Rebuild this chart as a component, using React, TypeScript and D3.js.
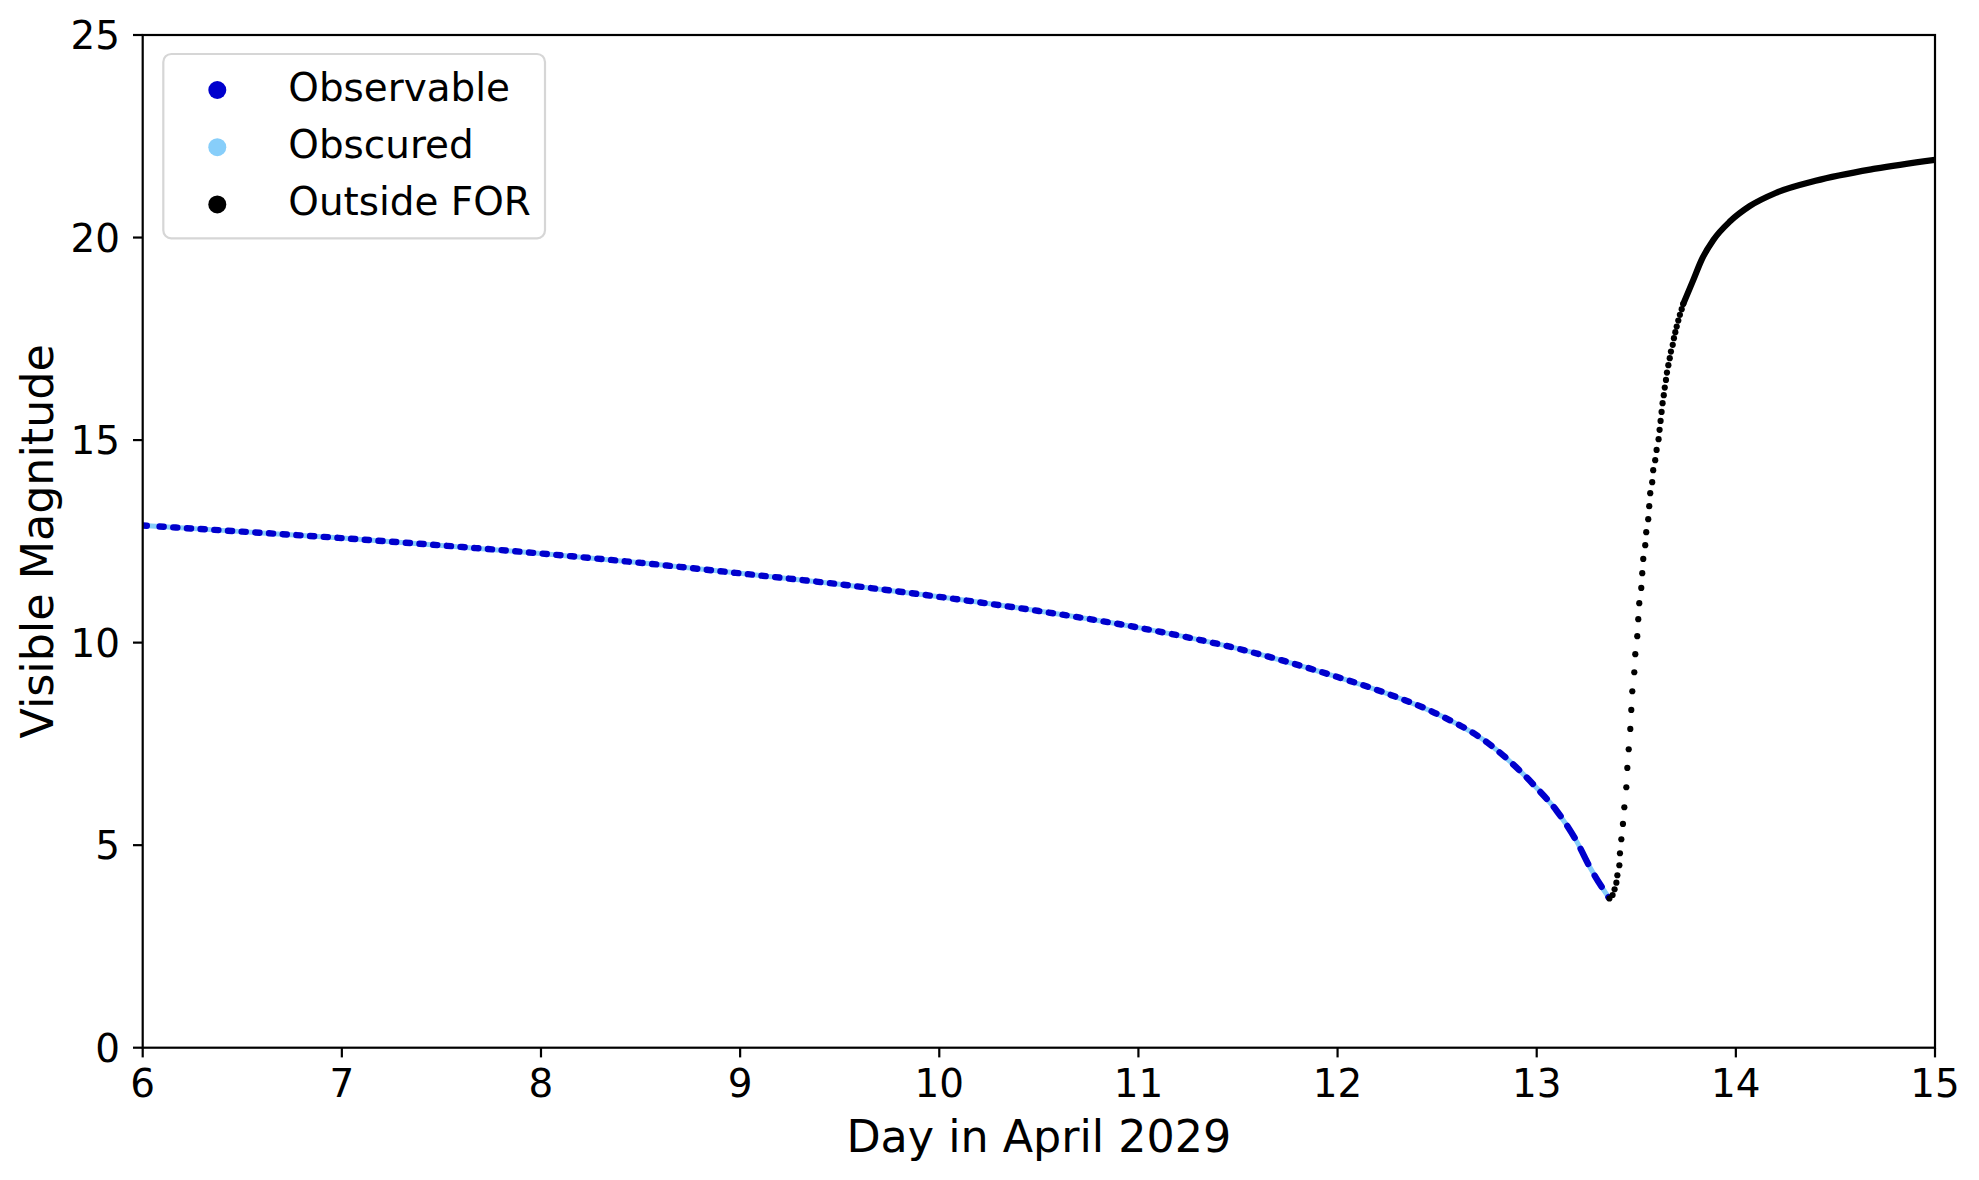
import React, { useEffect, useRef } from "react";
import * as d3 from "d3";

// ---------- data ----------
const xTicks = [6, 7, 8, 9, 10, 11, 12, 13, 14, 15];
const yTicks = [0, 5, 10, 15, 20, 25];
const xLabel = "Day in April 2029";
const yLabel = "Visible Magnitude";
const legendLabels = ["Observable", "Obscured", "Outside FOR"];
const legendColors = ["#0000cd", "#87cefa", "#000000"];

// Observable / Obscured track (day, visible magnitude)
const trackDays = [6.0, 6.5, 7.0, 7.5, 8.0, 8.5, 9.0, 9.5, 10.0, 10.5, 11.0, 11.5, 12.0, 12.25, 12.5, 12.75, 13.0, 13.1, 13.2, 13.27, 13.365];
const trackMags = [12.89, 12.74, 12.58, 12.4, 12.2, 11.97, 11.71, 11.44, 11.13, 10.78, 10.37, 9.85, 9.15, 8.74, 8.24, 7.54, 6.41, 5.85, 5.1, 4.43, 3.68];

// Outside FOR: individually visible points
const outDays = [13.365, 13.381, 13.391, 13.4, 13.405, 13.415, 13.418, 13.425, 13.433, 13.44, 13.45, 13.455, 13.462, 13.47, 13.475, 13.48, 13.49, 13.495, 13.505, 13.51, 13.515, 13.525, 13.53, 13.535, 13.545, 13.55, 13.56, 13.565, 13.57, 13.58, 13.585, 13.595, 13.602, 13.612, 13.617, 13.622, 13.627, 13.632, 13.638, 13.643, 13.649, 13.654, 13.661, 13.668, 13.674, 13.683, 13.689, 13.696, 13.703, 13.711, 13.719, 13.728, 13.736];
const outMags = [3.684, 3.77, 3.911, 4.074, 4.257, 4.504, 4.8, 5.146, 5.523, 5.936, 6.43, 6.906, 7.368, 7.869, 8.338, 8.8, 9.269, 9.714, 10.158, 10.578, 10.973, 11.351, 11.714, 12.067, 12.405, 12.726, 13.047, 13.368, 13.689, 13.96, 14.257, 14.504, 14.758, 15.022, 15.252, 15.474, 15.696, 15.911, 16.109, 16.296, 16.486, 16.667, 16.849, 17.022, 17.185, 17.351, 17.516, 17.664, 17.802, 17.951, 18.091, 18.232, 18.363];

// Outside FOR: densely packed continuation (points merge into a band)
const denseDays = [13.736, 13.786, 13.828, 13.887, 13.971, 14.071, 14.2, 14.4, 14.7, 15.0];
const denseMags = [18.363, 18.95, 19.45, 19.94, 20.4, 20.78, 21.1, 21.4, 21.7, 21.92];

export default function App() {
  const ref = useRef<SVGSVGElement>(null);

  useEffect(() => {
    document.body.style.margin = "0";
    const svg = d3.select(ref.current as SVGSVGElement);
    svg.selectAll("*").remove();

    const font = "DejaVu Sans, Verdana, sans-serif";
    const M = { l: 142.7, r: 1935, t: 35, b: 1047.7 };
    const x = d3.scaleLinear().domain([6, 15]).range([M.l, M.r]);
    const y = d3.scaleLinear().domain([0, 25]).range([M.b, M.t]);

    svg.append("rect").attr("width", 1979).attr("height", 1180).attr("fill", "white");

    svg.append("defs").append("clipPath").attr("id", "plotclip")
      .append("rect").attr("x", M.l).attr("y", M.t).attr("width", M.r - M.l).attr("height", M.b - M.t);

    const g = svg.append("g").attr("clip-path", "url(#plotclip)");

    // track
    const trackPts = trackDays.map((d, i) => [d, trackMags[i]] as [number, number]);
    const lineGen = d3.line<[number, number]>().x(d => x(d[0])).y(d => y(d[1])).curve(d3.curveMonotoneX);
    const dStr = lineGen(trackPts) as string;

    const under = g.append("path").attr("d", dStr).attr("fill", "none")
      .attr("stroke", legendColors[1]).attr("stroke-width", 5);

    const node = under.node() as SVGPathElement;
    const L = node.getTotalLength();
    const N = 4000;
    const sx: number[] = [];
    for (let i = 0; i <= N; i++) sx.push(node.getPointAtLength((L * i) / N).x);
    const lenAt = (px: number) => {
      let lo = 0, hi = N;
      while (hi - lo > 1) {
        const mid = (lo + hi) >> 1;
        if (sx[mid] < px) lo = mid; else hi = mid;
      }
      const f = (px - sx[lo]) / (sx[hi] - sx[lo] || 1);
      return (L * (lo + Math.max(0, Math.min(1, f)))) / N;
    };
    // dash pattern: one blob per visibility cycle (style only)
    const P = 0.0687;       // cycle length in days
    const frac = 0.77;      // visible share of each cycle
    const SW = 6.4;         // stroke width (round caps)
    const tStart = trackDays[0];
    const tEnd = trackDays[trackDays.length - 1];
    const dashes: [number, number][] = [];
    let k = 0;
    while (tStart + k * P < tEnd) {
      const t = tStart + k * P;
      const a = lenAt(x(t));
      const e = lenAt(x(Math.min(t + P, tEnd)));
      const per = e - a;
      const core = Math.max(0.01, frac * per - SW);
      const s = k === 0 ? 0 : a + SW / 2;
      dashes.push([s, Math.min(s + core, L)]);
      k++;
    }
    const segs: number[] = [];
    let prevEnd = 0;
    dashes.forEach(([s, e], i) => {
      if (i === 0) segs.push(e - s); else segs.push(Math.max(0, s - prevEnd), e - s);
      prevEnd = e;
    });
    segs.push(L);

    g.append("path").attr("d", dStr).attr("fill", "none")
      .attr("stroke", legendColors[0]).attr("stroke-width", SW)
      .attr("stroke-linecap", "round")
      .attr("stroke-dasharray", segs.map(v => v.toFixed(2)).join(" "));

    // outside FOR dense band
    const densePts = denseDays.map((d, i) => [d, denseMags[i]] as [number, number]);
    g.append("path").attr("d", lineGen(densePts) as string).attr("fill", "none")
      .attr("stroke", legendColors[2]).attr("stroke-width", 6.2).attr("stroke-linecap", "round");

    // outside FOR points
    g.selectAll("circle.out").data(outDays).enter().append("circle")
      .attr("class", "out")
      .attr("cx", d => x(d)).attr("cy", (_d, i) => y(outMags[i]))
      .attr("r", 3.1).attr("fill", legendColors[2]);

    // ticks
    const axisG = svg.append("g");
    xTicks.forEach(t => {
      axisG.append("line").attr("x1", x(t)).attr("x2", x(t)).attr("y1", M.b).attr("y2", M.b + 9.7)
        .attr("stroke", "black").attr("stroke-width", 2.2);
      axisG.append("text").attr("x", x(t)).attr("y", 1097).attr("text-anchor", "middle")
        .attr("font-family", font).attr("font-size", 38.9).attr("fill", "black").text(String(t));
    });
    yTicks.forEach(t => {
      axisG.append("line").attr("x1", M.l - 9.7).attr("x2", M.l).attr("y1", y(t)).attr("y2", y(t))
        .attr("stroke", "black").attr("stroke-width", 2.2);
      axisG.append("text").attr("x", 120).attr("y", y(t) + 14.2).attr("text-anchor", "end")
        .attr("font-family", font).attr("font-size", 38.9).attr("fill", "black").text(String(t));
    });

    // spines
    svg.append("rect").attr("x", M.l).attr("y", M.t).attr("width", M.r - M.l).attr("height", M.b - M.t)
      .attr("fill", "none").attr("stroke", "black").attr("stroke-width", 2.2);

    // axis labels
    svg.append("text").attr("x", (M.l + M.r) / 2).attr("y", 1152).attr("text-anchor", "middle")
      .attr("font-family", font).attr("font-size", 44.4).attr("fill", "black").text(xLabel);
    svg.append("text").attr("transform", `translate(53,${(M.t + M.b) / 2}) rotate(-90)`)
      .attr("text-anchor", "middle")
      .attr("font-family", font).attr("font-size", 44.4).attr("fill", "black").text(yLabel);

    // legend
    const lg = svg.append("g");
    lg.append("rect").attr("x", 163.3).attr("y", 54).attr("width", 381.7).attr("height", 184.3)
      .attr("rx", 8).attr("ry", 8).attr("fill", "white").attr("fill-opacity", 0.8)
      .attr("stroke", "#cccccc").attr("stroke-opacity", 0.8).attr("stroke-width", 2.2);
    legendLabels.forEach((lab, i) => {
      const cy = 90 + i * 57.2;
      lg.append("circle").attr("cx", 217.3).attr("cy", cy).attr("r", 9).attr("fill", legendColors[i]);
      lg.append("text").attr("x", 288.3).attr("y", 101 + i * 57.2)
        .attr("font-family", font).attr("font-size", 38.9).attr("fill", "black").text(lab);
    });
  }, []);

  return <svg ref={ref} width={1979} height={1180} style={{ display: "block" }} />;
}
